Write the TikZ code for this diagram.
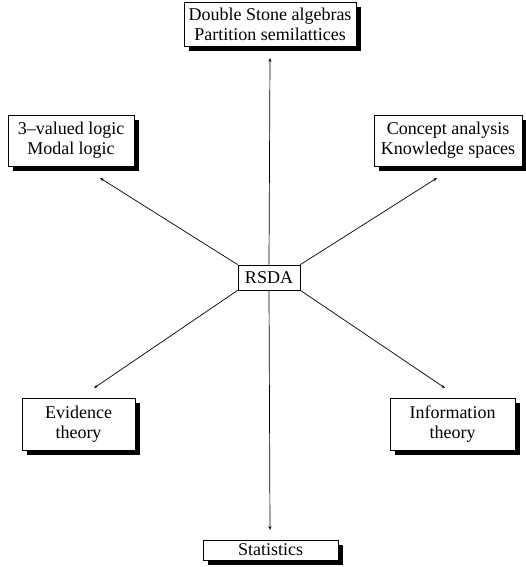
\documentclass[tikz,border=0pt]{standalone}
\usepackage{fontspec}
\setmainfont{Liberation Serif}
\usetikzlibrary{shadows,arrows.meta}
\begin{document}
\begin{tikzpicture}[x=1pt,y=-1pt,
  box/.style={draw=black,line width=0.9pt,fill=white,align=center,inner sep=0pt,
    font=\fontsize{18}{20}\selectfont,
    drop shadow={shadow xshift=5pt,shadow yshift=-5pt,fill=black,opacity=1}},
  centerbox/.style={draw=black,line width=0.7pt,fill=white,inner sep=0pt,
    font=\fontsize{18}{20}\selectfont},
  link/.style={line width=0.7pt,-{Stealth[length=4pt,width=3pt]}}]
\useasboundingbox (0,0) rectangle (525,567);
\node[box,minimum width=172pt,minimum height=44pt] (top) at (270,24) {Double Stone algebras\\Partition semilattices};
\node[box,minimum width=126pt,minimum height=51pt] (ul) at (71,140.5) {3--valued logic\\Modal logic};
\node[box,minimum width=148pt,minimum height=51pt] (ur) at (448,140.5) {Concept analysis\\Knowledge spaces};
\node[centerbox,minimum width=62pt,minimum height=25pt] (rsda) at (269,277.5) {RSDA};
\node[box,minimum width=113pt,minimum height=52pt] (ev) at (78.5,424) {Evidence\\theory};
\node[box,minimum width=125pt,minimum height=52pt] (inf) at (452.5,424) {Information\\theory};
\node[box,minimum width=135pt,minimum height=20pt] (stat) at (270.5,550) {Statistics};
\coordinate (ttop) at (270,58);
\coordinate (tul) at (100,178);
\coordinate (tur) at (437,178);
\coordinate (tll) at (94,388);
\coordinate (tlr) at (445,388);
\coordinate (tbot) at (270,530);
\draw[link] (rsda.north) -- (ttop);
\draw[link] (rsda.north west) -- (tul);
\draw[link] (rsda.north east) -- (tur);
\draw[link] (rsda.south west) -- (tll);
\draw[link] (rsda.south east) -- (tlr);
\draw[link] (rsda.south) -- (tbot);
\end{tikzpicture}
\end{document}
